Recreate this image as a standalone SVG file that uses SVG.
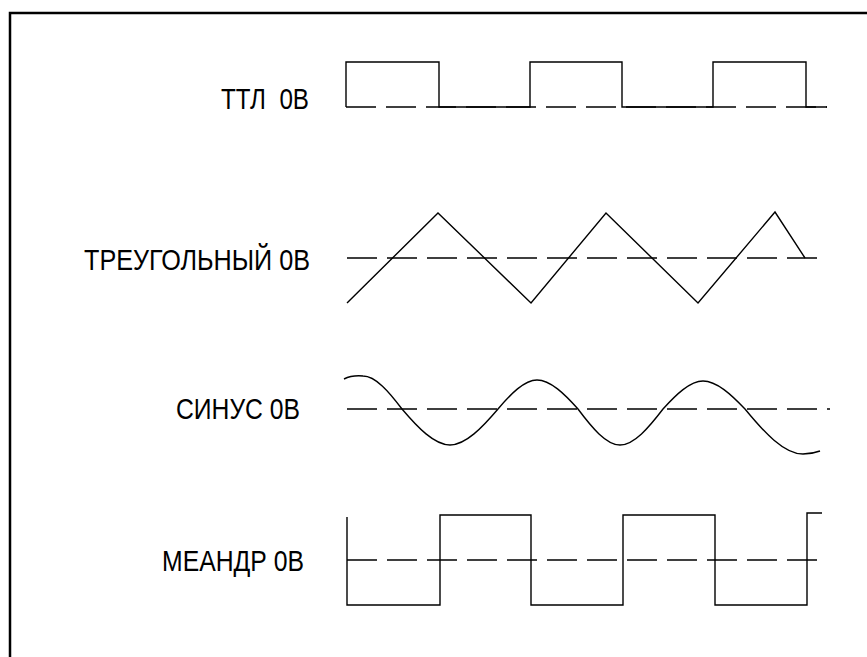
<svg xmlns="http://www.w3.org/2000/svg" width="867" height="657" viewBox="0 0 867 657">
<style>
.lbl{font-family:"Liberation Sans",Arial,sans-serif;font-size:30px;fill:#000;white-space:pre}
.w{fill:none;stroke:#000;stroke-width:1.4;stroke-linejoin:miter}
.z{fill:none;stroke:#000;stroke-width:1.4;stroke-dasharray:30 10}
</style>
<rect width="867" height="657" fill="#fff"/>
<path d="M10,657 V13 H867" fill="none" stroke="#000" stroke-width="2.5"/>
<g id="ttl">
<text class="lbl" x="221" y="109" textLength="88" lengthAdjust="spacingAndGlyphs">ТТЛ  0В</text>
<line class="z" x1="346" y1="107" x2="827" y2="107"/>
<path class="w" d="M346,107 V62 H439 V107 H530 V62 H622 V107 H713 V62 H806 V107 H827"/>
</g>
<g id="triangle">
<text class="lbl" x="84" y="270" textLength="226" lengthAdjust="spacingAndGlyphs">ТРЕУГОЛЬНЫЙ 0В</text>
<line class="z" x1="347" y1="258" x2="827" y2="258"/>
<polyline class="w" points="347,303 438,213 531,303 606,213 698,303 775,212 805,258"/>
</g>
<g id="sine">
<text class="lbl" x="176" y="419" textLength="124" lengthAdjust="spacingAndGlyphs">СИНУС 0В</text>
<line class="z" x1="347" y1="409" x2="830" y2="409"/>
<path class="w" d="M344,379 Q352,375 363,376 C375.7,376 389.3,392.1 402,409 C417.6,427.4 434.4,445 450,445 C465.6,445 482.4,427.4 498,409 C510.7,394.1 524.3,380 537,380 C550.4,380 564.6,394.1 578,409 C591.7,427.4 606.3,445 620,445 C634,445 649,427.4 663,409 C676,394.7 690,381 703,381 C716.7,381 731.3,394.7 745,409 C763.9,432.1 784.1,454 803,454 Q812,454 820,451"/>
</g>
<g id="meander">
<text class="lbl" x="162" y="571" textLength="142" lengthAdjust="spacingAndGlyphs">МЕАНДР 0В</text>
<line class="z" x1="347" y1="560" x2="822" y2="560"/>
<path class="w" d="M347,517 V605 H440 V515 H531 V605 H623 V515 H715 V605 H807 V513 H822"/>
</g>
</svg>
